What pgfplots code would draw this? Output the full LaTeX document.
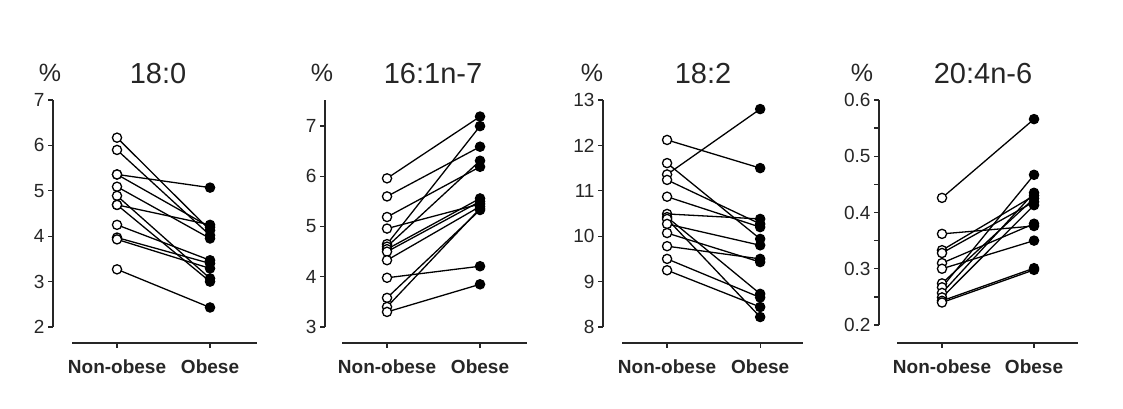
\documentclass[border=0pt]{standalone}
\usepackage{fontspec}
\setmainfont{Liberation Sans}
\usepackage{pgfplots}
\pgfplotsset{compat=1.18}
\pgfplotsset{
 panel/.style={
  scale only axis, height=227pt, anchor=south west,
  axis x line=bottom, axis y line=left,
  axis x line shift=16pt, axis y line shift=19pt,
  axis line style={line width=1.4pt, color=black!85, -},
  tick style={line width=1.3pt, black!85},
  tick align=outside, major tick length=5pt, minor tick length=5pt,
  xtick={0,1}, xticklabels={Non-obese,Obese},
  xticklabel style={font=\fontsize{19}{22}\selectfont\bfseries, yshift=-8pt, text=black!85},
  yticklabel style={font=\fontsize{19}{22}\selectfont, text=black!85},
  /pgf/number format/assume math mode=true,
  xmin=-0.484, xmax=1.505,
  clip=false,
  point meta=x, point meta min=0, point meta max=1,
  colormap={bw}{color(0)=(white) color(1)=(black)},
 },
 subj/.style={black, line width=1.3pt, mark=*, scatter,
   scatter/use mapped color={draw=black, fill=mapped color},
   mark size=4.6pt, mark options={line width=1.3pt}},
}
\newcommand{\pair}[2]{\addplot[subj] coordinates {(0,#1) (1,#2)};}
\begin{document}
\begin{tikzpicture}
\useasboundingbox (0,0) rectangle (1123pt,409pt);
% Panel 1: 18:0
\begin{axis}[panel, at={(72pt,82pt)}, width=185pt, ymin=2, ymax=7, ytick={2,3,4,5,6,7}]
\pair{6.17}{4.13}
\pair{5.90}{4.02}
\pair{5.36}{5.07}
\pair{5.36}{4.20}
\pair{5.09}{3.95}
\pair{4.89}{3.07}
\pair{4.69}{4.25}
\pair{4.69}{3.00}
\pair{4.25}{3.47}
\pair{3.97}{3.40}
\pair{3.93}{3.29}
\pair{3.27}{2.43}
\end{axis}
% Panel 2: 16:1n-7
\begin{axis}[panel, at={(342pt,82pt)}, width=185pt, ymin=3, ymax=7.52, ytick={3,4,5,6,7}, axis y line shift=17pt]
\pair{5.96}{7.19}
\pair{5.60}{6.59}
\pair{5.19}{6.19}
\pair{4.96}{5.45}
\pair{4.65}{7.00}
\pair{4.60}{6.31}
\pair{4.55}{5.56}
\pair{4.50}{5.50}
\pair{4.33}{5.40}
\pair{3.98}{4.21}
\pair{3.58}{5.33}
\pair{3.40}{5.36}
\pair{3.30}{3.85}
\end{axis}
% Panel 3: 18:2
\begin{axis}[panel, at={(622pt,82pt)}, width=181pt, xmax=1.46, ymin=8, ymax=13, ytick={8,9,10,11,12,13}]
\pair{12.12}{11.50}
\pair{11.61}{9.94}
\pair{11.36}{12.80}
\pair{11.24}{10.27}
\pair{10.87}{10.20}
\pair{10.49}{10.38}
\pair{10.42}{8.73}
\pair{10.38}{8.22}
\pair{10.27}{9.80}
\pair{10.07}{9.43}
\pair{9.78}{9.50}
\pair{9.50}{8.65}
\pair{9.25}{8.44}
\end{axis}
% Panel 4: 20:4n-6
\begin{axis}[panel, at={(897pt,84pt)}, width=181pt, height=225pt, xmin=-0.489, xmax=1.478,
  ymin=0.2, ymax=0.6, ytick={0.2,0.3,0.4,0.5,0.6}, minor ytick={0.25,0.35,0.45,0.55},
  axis x line shift=18pt, axis y line shift=18pt,
  yticklabel style={/pgf/number format/fixed, /pgf/number format/fixed zerofill, /pgf/number format/precision=1}]
\pair{0.426}{0.566}
\pair{0.362}{0.376}
\pair{0.333}{0.430}
\pair{0.328}{0.419}
\pair{0.310}{0.380}
\pair{0.300}{0.350}
\pair{0.274}{0.425}
\pair{0.267}{0.467}
\pair{0.257}{0.435}
\pair{0.249}{0.413}
\pair{0.243}{0.301}
\pair{0.240}{0.298}
\end{axis}
% titles
\begin{scope}[every node/.style={inner sep=0pt, text=black!85}]
\node[font=\fontsize{25}{28}\selectfont] at (50pt,336.5pt) {\%};
\node[font=\fontsize{25}{28}\selectfont] at (322pt,336.5pt) {\%};
\node[font=\fontsize{25}{28}\selectfont] at (592pt,336.5pt) {\%};
\node[font=\fontsize{25}{28}\selectfont] at (862pt,336.5pt) {\%};
\node[font=\fontsize{29}{33}\selectfont] at (158pt,335pt) {18:0};
\node[font=\fontsize{29}{33}\selectfont] at (433pt,335pt) {16:1n-7};
\node[font=\fontsize{29}{33}\selectfont] at (703pt,335pt) {18:2};
\node[font=\fontsize{29}{33}\selectfont] at (983pt,335pt) {20:4n-6};
\end{scope}
\end{tikzpicture}
\end{document}
